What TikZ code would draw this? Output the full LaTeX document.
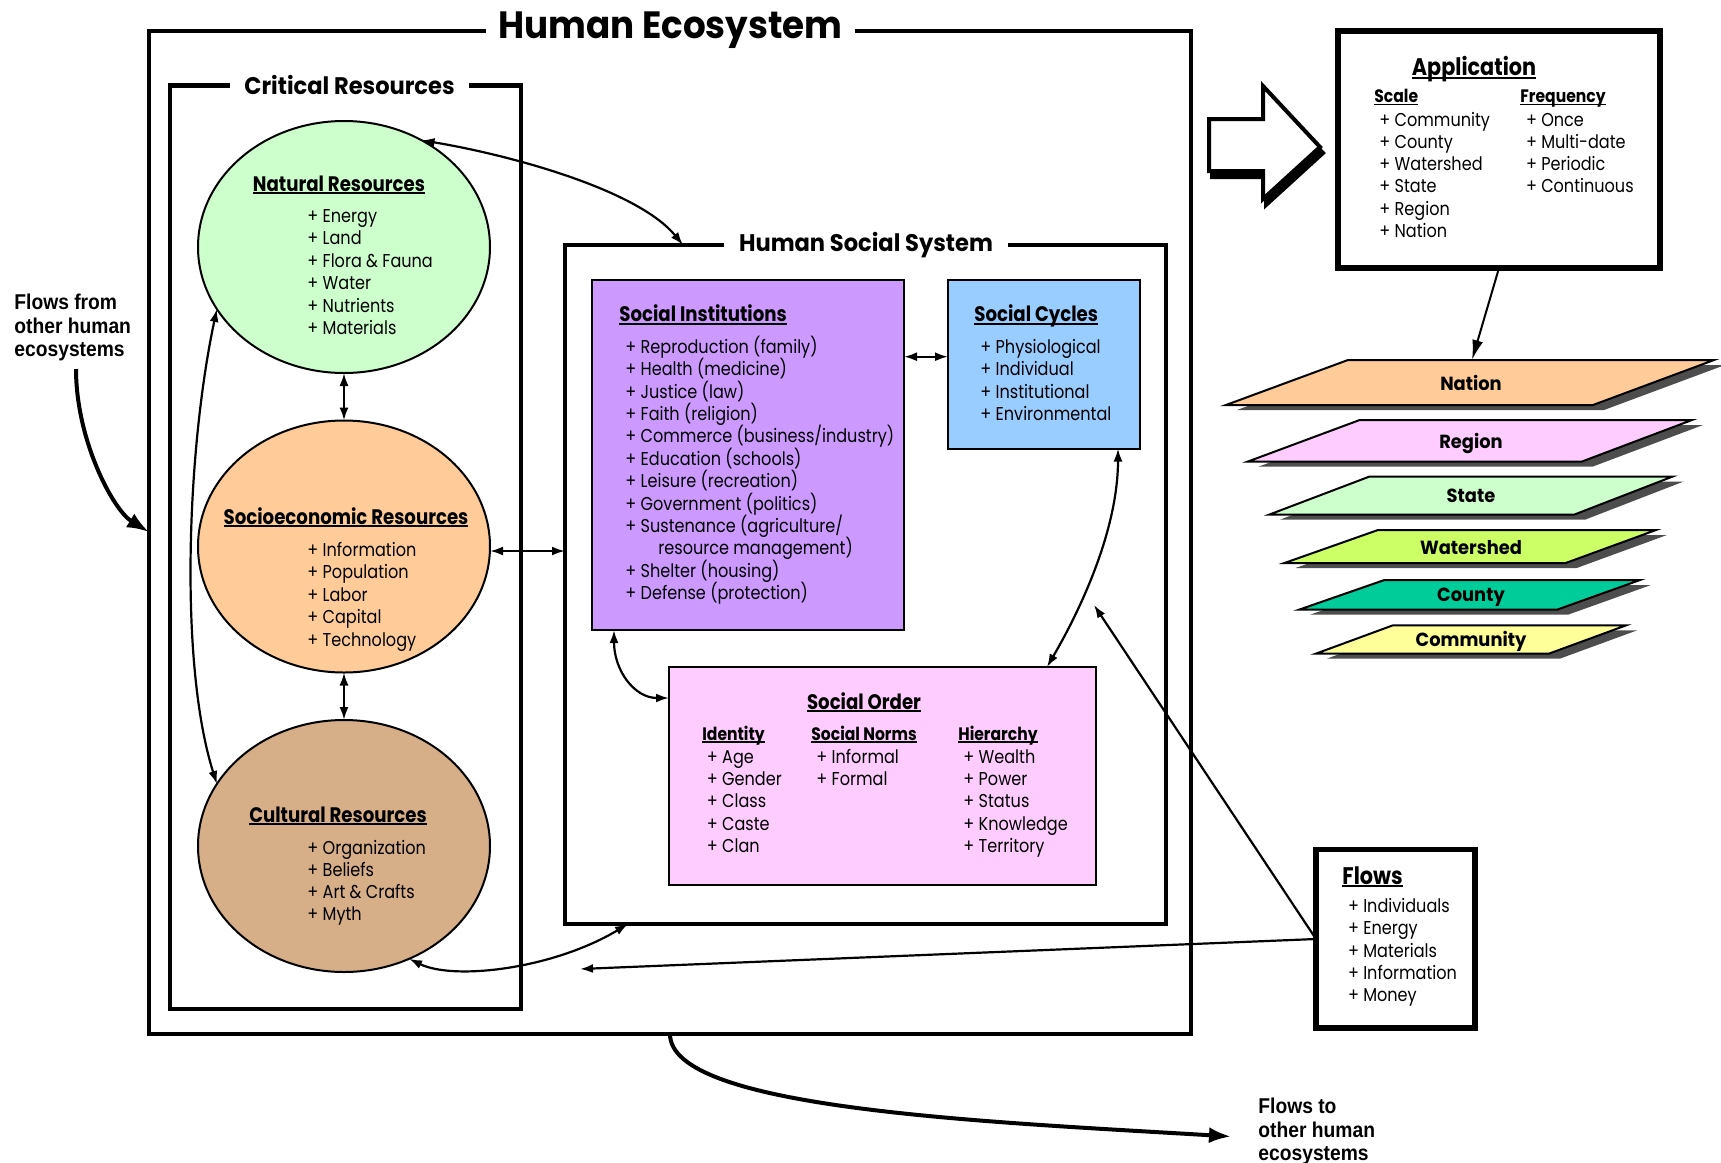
\documentclass[tikz,border=0pt]{standalone}
\usepackage{fontspec}
\setmainfont{Poppins}[FakeStretch=0.865]
\newfontfamily\secfont{Poppins}[FakeStretch=0.94]
\newfontfamily\arialb{Liberation Sans}[FakeStretch=0.9]
\usetikzlibrary{arrows.meta,shapes.geometric,calc}
\definecolor{natc}{HTML}{CCFFCC}
\definecolor{socc}{HTML}{FFCC99}
\definecolor{culc}{HTML}{D6AE88}
\definecolor{sicol}{HTML}{CC99FF}
\definecolor{sccol}{HTML}{99CCFF}
\definecolor{socol}{HTML}{FFCCFF}
\definecolor{watc}{HTML}{CCFF66}
\definecolor{couc}{HTML}{00CC99}
\definecolor{comc}{HTML}{FFFF99}
\definecolor{shgray}{HTML}{4D4D4D}
\newsavebox{\ulbox}
\newcommand{\ulh}[2][0.9pt]{\sbox{\ulbox}{#2}\rlap{\rule[-1.5pt]{\wd\ulbox}{#1}}\usebox{\ulbox}}
\newcommand{\itemcol}[5]{\foreach \tx [count=\nn] in {#5}{\node[itm] (#1\nn) at (#2,{#3+(\nn-1)*#4}) {+ \tx};}}
\newcommand{\parashape}[7]{%
  \fill[shgray, shift={(11,5)}] (#2,#3) -- (#4,#5) -- (#6,#5) -- (#7,#3) -- cycle;
  \draw[fill=#1, line width=1pt] (#2,#3) -- (#4,#5) -- (#6,#5) -- (#7,#3) -- cycle;}
\begin{document}
\begin{tikzpicture}[x=0.5pt,y=-0.5pt,
  boxfr/.style={draw, outer sep=0pt, inner sep=0pt, anchor=north west},
  itm/.style={font=\fontsize{9.3}{11}\selectfont, inner sep=0pt, anchor=base west},
  ttl/.style={font=\fontsize{10.5}{12}\selectfont\bfseries, inner sep=0pt},
  subhd/.style={font=\fontsize{9}{11}\selectfont\bfseries, inner sep=0pt, anchor=base west},
  secttl/.style={font=\secfont\fontsize{12}{14}\selectfont\bfseries, fill=white, inner ysep=3pt, anchor=base},
  ellnode/.style={ellipse, draw, line width=1pt, outer sep=0pt, inner sep=0pt, minimum width=146pt, minimum height=126pt},
  plab/.style={font=\secfont\fontsize{9.5}{11}\selectfont\bfseries, inner sep=0pt, anchor=base},
  ar/.style={line width=1.1pt, -{Latex[length=6.5pt,width=4.5pt]}},
  dar/.style={line width=1.1pt, {Latex[length=6.5pt,width=4.5pt]}-{Latex[length=6.5pt,width=4.5pt]}},
  bigar/.style={line width=2pt, -{Latex[length=11pt,width=8pt]}},
  flowtxt/.style={font=\arialb\bfseries\fontsize{10.7}{11.75}\selectfont, align=left, anchor=north west, inner sep=0pt}
]
\useasboundingbox (0,0) rectangle (1721,1163);
% frames
\node[boxfr, line width=2.25pt, minimum width=521pt, minimum height=501.5pt] (he) at (149,31) {};
\node[boxfr, line width=2.25pt, minimum width=175.5pt, minimum height=461.7pt] (cr) at (170,85.6) {};
\node[boxfr, line width=2.25pt, minimum width=300.5pt, minimum height=339.5pt] (hss) at (565,245) {};
\node[secttl, font=\secfont\fontsize{19}{21}\selectfont\bfseries, inner xsep=6pt] (het) at (670.5,38) {Human Ecosystem};
\node[secttl, inner xsep=7pt] (crt) at (349.5,94) {Critical Resources};
\node[secttl, inner xsep=7.5pt] (hsst) at (866,251) {Human Social System};
% ellipses
\node[ellnode, fill=natc] (nat) at (344,247) {};
\node[ellnode, fill=socc] (soc) at (344,546.5) {};
\node[ellnode, fill=culc] (cul) at (344,846) {};
\node[ttl, anchor=base] (natt) at (339,191) {\ulh{Natural Resources}};
\itemcol{nat}{307}{222.5}{22.4}{Energy, Land, Flora \& Fauna, Water, Nutrients, Materials}
\node[ttl, anchor=base] (soct) at (346,524) {\ulh{Socioeconomic Resources}};
\itemcol{soc}{307}{556.5}{22.4}{Information, Population, Labor, Capital, Technology}
\node[ttl, anchor=base] (cult) at (338,822) {\ulh{Cultural Resources}};
\itemcol{cul}{307}{854}{22.3}{Organization, Beliefs, Art \& Crafts, Myth}
% social system boxes
\node[boxfr, line width=1pt, fill=sicol, minimum width=155.8pt, minimum height=175pt] (si) at (592.4,280) {};
\node[boxfr, line width=1pt, fill=sccol, minimum width=96pt, minimum height=84.25pt] (sc) at (948,280) {};
\node[boxfr, line width=1pt, fill=socol, minimum width=213.5pt, minimum height=109pt] (so) at (669,667) {};
\node[ttl, anchor=base west] (sit) at (619,321.6) {\ulh{Social Institutions}};
\itemcol{si}{625}{353.5}{22.36}{Reproduction (family), Health (medicine), Justice (law), Faith (religion), Commerce (business/industry), Education (schools), Leisure (recreation), Government (politics), Sustenance (agriculture/}
\node[itm] (si10) at (658,554.7) {resource management)};
\node[itm] (si11) at (625,577.1) {+ Shelter (housing)};
\node[itm] (si12) at (625,599.5) {+ Defense (protection)};
\node[ttl, anchor=base west] (sct) at (974,321.6) {\ulh{Social Cycles}};
\itemcol{sc}{980}{353.5}{22.4}{Physiological, Individual, Institutional, Environmental}
\node[ttl, anchor=base] (sot) at (864,709) {\ulh{Social Order}};
\node[subhd] (idt) at (702,740) {\ulh[0.8pt]{Identity}};
\node[subhd] (snt) at (811,740) {\ulh[0.8pt]{Social Norms}};
\node[subhd] (hit) at (958,740) {\ulh[0.8pt]{Hierarchy}};
\itemcol{id}{706.5}{763}{22.4}{Age, Gender, Class, Caste, Clan}
\itemcol{sn}{816}{763}{22.4}{Informal, Formal}
\itemcol{hi}{963}{763}{22.4}{Wealth, Power, Status, Knowledge, Territory}
% application
\path[fill=black, draw=black, line width=2pt, shift={(3,6)}] (1209,119) -- (1263,119) -- (1263,86) -- (1320,147) -- (1263,199) -- (1263,171) -- (1209,171) -- cycle;
\path[fill=white, draw=black, line width=2pt] (1209,119) -- (1263,119) -- (1263,86) -- (1320,147) -- (1263,199) -- (1263,171) -- (1209,171) -- cycle;
\node[boxfr, line width=3pt, minimum width=161pt, minimum height=118.7pt] (app) at (1338,30.6) {};
\node[ttl, font=\fontsize{12}{14}\selectfont\bfseries, anchor=base] (appt) at (1474,75.5) {\ulh[1pt]{Application}};
\node[subhd] (sclt) at (1374,102.4) {\ulh[0.8pt]{Scale}};
\node[subhd] (frqt) at (1520,102.4) {\ulh[0.8pt]{Frequency}};
\itemcol{scl}{1379}{126}{22.3}{Community, County, Watershed, State, Region, Nation}
\itemcol{frq}{1525.6}{126}{22.3}{Once, Multi-date, Periodic, Continuous}
% flows box
\node[boxfr, line width=2.75pt, minimum width=79.5pt, minimum height=89.25pt] (flows) at (1316,849.5) {};
\node[ttl, font=\fontsize{12}{14}\selectfont\bfseries, anchor=base west] (flt) at (1342,884) {\ulh[1pt]{Flows}};
\itemcol{fl}{1347.6}{912.5}{22.3}{Individuals, Energy, Materials, Information, Money}
% layers
\parashape{socc}{1226}{405}{1348}{360}{1714}{1593}
\parashape{socol}{1248}{461.5}{1359.7}{420}{1692}{1582}
\parashape{natc}{1269}{514.7}{1369.6}{476.5}{1672.7}{1574}
\parashape{watc}{1284.5}{563}{1378}{530}{1656}{1565.7}
\parashape{couc}{1299}{609.7}{1384.4}{580}{1640}{1557}
\parashape{comc}{1316}{653.6}{1392.7}{625.4}{1626}{1549}
\node[plab] (lnat) at (1471,390) {Nation};
\node[plab] (lreg) at (1471,448.5) {Region};
\node[plab] (lsta) at (1471,502.7) {State};
\node[plab] (lwat) at (1471,554.7) {Watershed};
\node[plab] (lcou) at (1471,601.7) {County};
\node[plab] (lcom) at (1471,646) {Community};
\coordinate (natop) at (1472,360);
\draw[line width=1pt, -{Latex[length=10pt,width=5.5pt]}] ([xshift=80.5pt]app.south west) -- (natop);
% outside flows
\node[flowtxt] (ffrom) at (14,294) {Flows from\\other human\\ecosystems};
\node[flowtxt] (fto) at (1258,1098) {Flows to\\other human\\ecosystems};
\coordinate (ffs) at (76,369);
\draw[bigar] (ffs) .. controls +(0,71) and +(-36,-22) .. ([yshift=-250.5pt]he.north west);
\coordinate (fte) at (1231,1136.5);
\draw[bigar] ([xshift=260.5pt]he.south west) .. controls +(0,75) and +(-250,-15) .. (fte);
% internal connectors
\draw[dar] (nat.south) -- (soc.north);
\draw[dar] (soc.south) -- (cul.north);
\draw[dar] (nat.206) .. controls +(-30,140) and +(-38,-120) .. (cul.154);
\draw[dar] (nat.54) .. controls +(90,15) and +(-45,-55) .. ([xshift=59pt]hss.north west);
\coordinate (socr) at ([yshift=-2.25pt]soc.east);
\draw[dar] (socr) -- (socr -| hss.west);
\coordinate (sisc) at ([yshift=-38.35pt]si.north east);
\draw[dar] (sisc) -- (sisc -| sc.west);
\draw[dar] ([xshift=10.8pt]si.south west) .. controls +(0,40) and +(-35,0) .. ([yshift=-15.5pt]so.north west);
\draw[dar] ([xshift=85pt]sc.south west) .. controls +(0,80) and +(35,-60) .. ([xshift=189pt]so.north west);
\draw[dar] (cul.-60) .. controls +(45,22) and +(-75,45) .. ([xshift=31.5pt]hss.south west);
\coordinate (flo) at ([yshift=-44.75pt]flows.north west);
\coordinate (soin) at (1094,605);
\coordinate (hein) at (580,969);
\draw[ar] (flo) -- (soin);
\draw[ar] (flo) -- (hein);
\end{tikzpicture}
\end{document}
